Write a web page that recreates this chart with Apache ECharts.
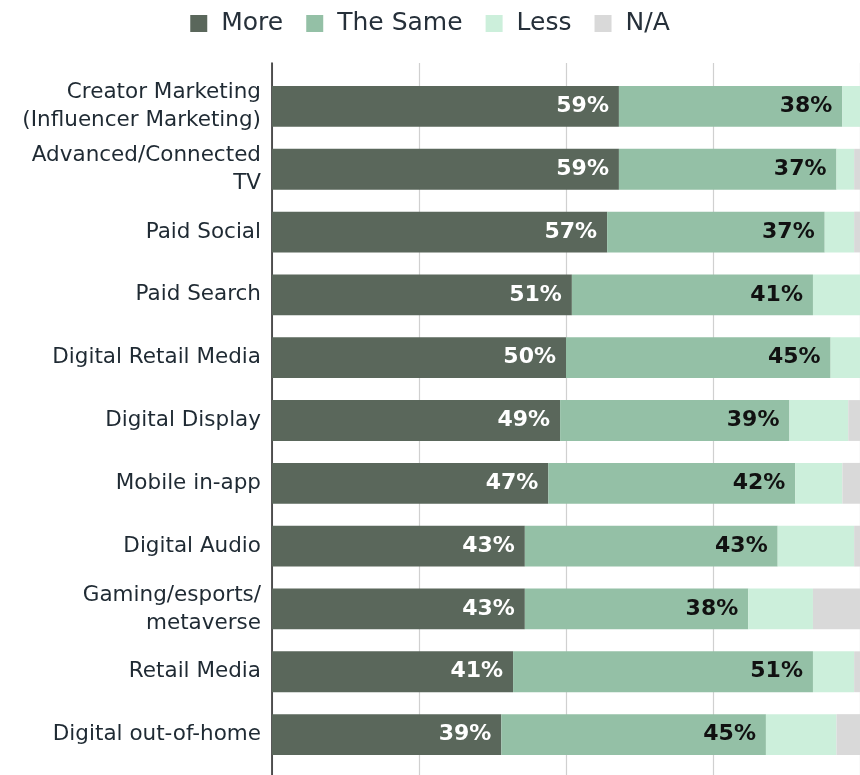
<!DOCTYPE html>
<html>
<head>
<meta charset="utf-8">
<script src="https://cdn.jsdelivr.net/npm/echarts@6/dist/echarts.min.js"></script>
<style>
  html, body { margin: 0; padding: 0; background: #ffffff; }
  #chart { width: 860px; height: 775px; }
</style>
</head>
<body>
<div id="chart"></div>
<script>
// Channels, top to bottom
const categories = [
  'Creator Marketing\n(Influencer Marketing)',
  'Advanced/Connected\nTV',
  'Paid Social',
  'Paid Search',
  'Digital Retail Media',
  'Digital Display',
  'Mobile in-app',
  'Digital Audio',
  'Gaming/esports/\nmetaverse',
  'Retail Media',
  'Digital out-of-home'
];

// Share of respondents (%)
const moreValues = [59, 59, 57, 51, 50, 49, 47, 43, 43, 41, 39];
const sameValues = [38, 37, 37, 41, 45, 39, 42, 43, 38, 51, 45];
const lessValues = [3, 3, 5, 8, 5, 10, 8, 13, 11, 7, 12];
const naValues   = [0, 1, 1, 0, 0, 2, 3, 1, 8, 1, 4];

const seriesNames = ['More', 'The Same', 'Less', 'N/A'];
const seriesColors = ['#5a675b', '#94c0a6', '#ccefdb', '#d9d9d9'];
const xTicks = { min: 0, max: 100, interval: 25 };

const FONT = 'DejaVu Sans';
const plotLeft = 272;
const plotWidth = 594;

function valueLabel(color) {
  return {
    show: true,
    position: 'insideRight',
    distance: 10,
    color: color,
    fontFamily: FONT,
    fontWeight: 'bold',
    fontSize: 22,
    formatter: p => p.value + '%'
  };
}

function stackSeries(name, data, color, label) {
  return {
    name: name,
    type: 'bar',
    stack: 'total',
    xAxisIndex: 1,
    yAxisIndex: 1,
    barWidth: '65%',
    data: data,
    itemStyle: { color: color },
    label: label || { show: false },
    emphasis: { disabled: true },
    silent: true
  };
}

const chart = echarts.init(document.getElementById('chart'), null, { renderer: 'canvas' });

chart.setOption({
  animation: false,
  backgroundColor: '#ffffff',
  color: seriesColors,
  legend: {
    top: 6,
    left: 'center',
    itemWidth: 17,
    itemHeight: 17,
    itemGap: 23,
    icon: 'rect',
    textStyle: { fontFamily: FONT, fontSize: 25, color: '#26303a', padding: [0, 0, 0, 9] },
    data: seriesNames
  },
  grid: [
    // frame for the axis line and vertical gridlines
    { left: plotLeft, width: plotWidth, top: 63, bottom: -10 },
    // bars
    { left: plotLeft, width: plotWidth, top: 75, height: 691 }
  ],
  xAxis: [
    {
      gridIndex: 0, type: 'value', min: xTicks.min, max: xTicks.max, interval: xTicks.interval,
      axisLine: { show: false }, axisTick: { show: false }, axisLabel: { show: false },
      splitLine: { show: true, lineStyle: { color: '#d0d0d0', width: 1.2 } }
    },
    {
      gridIndex: 1, type: 'value', min: xTicks.min, max: xTicks.max, interval: xTicks.interval,
      show: false, splitLine: { show: false }
    }
  ],
  yAxis: [
    {
      gridIndex: 0, type: 'value', min: 0, max: 1,
      axisLine: { show: true, onZero: false, lineStyle: { color: '#222222', width: 1.5 } },
      axisTick: { show: false }, axisLabel: { show: false }, splitLine: { show: false }
    },
    {
      gridIndex: 1, type: 'category', inverse: true, data: categories,
      axisLine: { show: false }, axisTick: { show: false }, splitLine: { show: false },
      axisLabel: {
        margin: 11,
        fontFamily: FONT,
        fontSize: 21.5,
        lineHeight: 28,
        padding: [4, 0, 0, 0],
        color: '#1f2a33',
        align: 'right'
      }
    }
  ],
  series: [
    stackSeries(seriesNames[0], moreValues, seriesColors[0], valueLabel('#ffffff')),
    stackSeries(seriesNames[1], sameValues, seriesColors[1], valueLabel('#111111')),
    stackSeries(seriesNames[2], lessValues, seriesColors[2]),
    stackSeries(seriesNames[3], naValues, seriesColors[3])
  ]
});
</script>
</body>
</html>
